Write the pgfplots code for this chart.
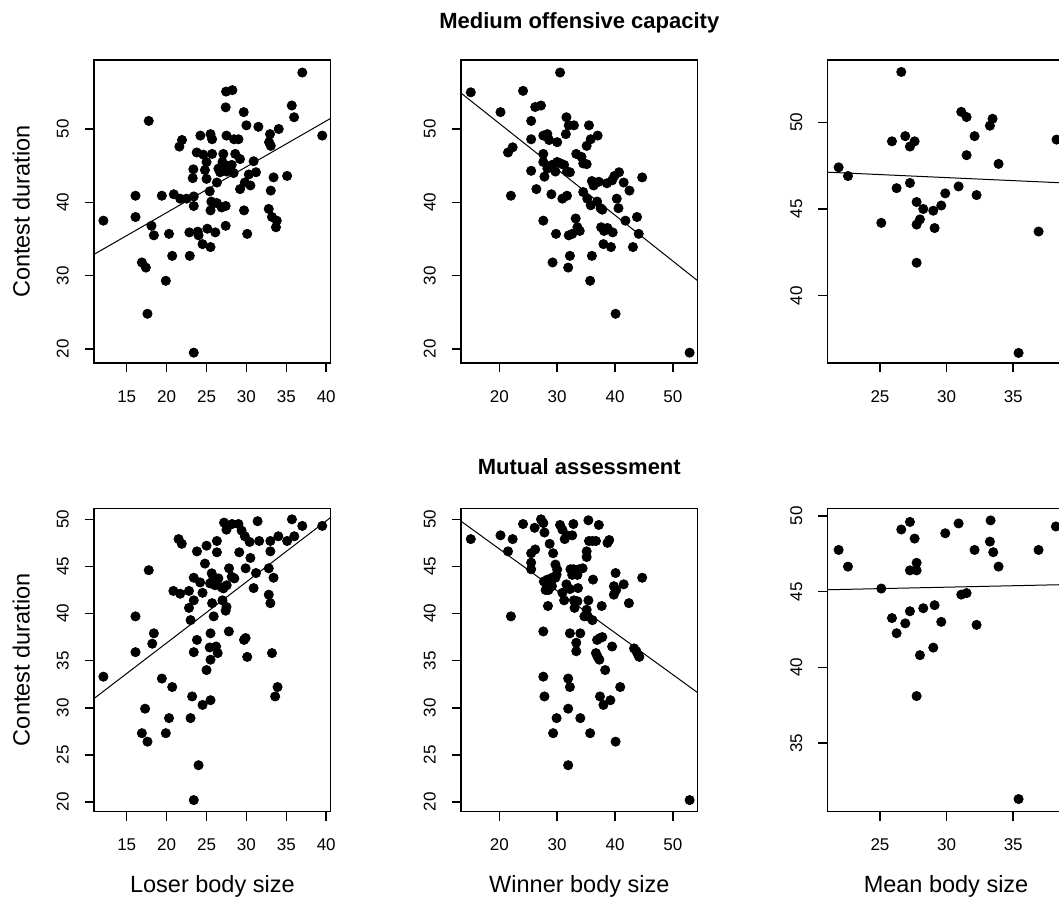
\documentclass[border=0pt]{standalone}
\usepackage{fontspec}
\setmainfont{Liberation Sans}
\usepackage{pgfplots}
\pgfplotsset{compat=1.18}

% 1 px of the reference = 0.5pt
\pgfplotsset{
  rpanel/.style={
    scale only axis, width=118.35pt, height=151.5pt,
    anchor=north west, clip=true,
    tick pos=left, tick align=outside, major tick length=4.75pt,
    axis line style={line width=0.75pt},
    every tick/.style={line width=0.75pt, black},
    scaled ticks=false,
    /pgf/number format/assume math mode=true,
    tick label style={font=\fontsize{8.5}{10}\selectfont},
    xticklabel style={yshift=-15pt, anchor=base},
    yticklabel style={xshift=-8pt, rotate=90, anchor=base},
    every axis x label/.style={at={(axis description cs:0.5,-0.2693)}, anchor=base,
      font=\fontsize{11.75}{14}\selectfont},
    every axis y label/.style={at={(axis description cs:-0.2717,0.5)}, rotate=90, anchor=base,
      font=\fontsize{11.75}{14}\selectfont},
  },
  dots/.style={only marks, mark=*, mark size=2.3pt, black},
  fit/.style={no marks, black, line width=0.5pt},
}

\begin{document}
\begin{tikzpicture}
\useasboundingbox (0,0) rectangle (529.5pt,449.5pt);
\fill[white] (0,0) rectangle (529.5pt,449.5pt);
\clip (0,0) rectangle (529.5pt,449.5pt);

% ---------- top row: medium offensive capacity ----------
\begin{axis}[rpanel, at={(47pt,419.5pt)},
  xmin=10.9, xmax=40.56, ymin=18.09, ymax=59.41,
  xtick={15,20,25,30,35,40}, ytick={20,30,40,50},
  ylabel={Contest duration}]
\addplot[dots] coordinates {
(37.0,57.7) (27.45,55.1) (28.24,55.3) (27.4,52.95) (17.76,51.1) (35.68,53.2)
(35.97,51.6) (29.66,52.3) (30.0,50.5) (31.5,50.3) (34.05,50.0) (32.96,49.3)
(32.84,48.2) (33.05,47.7) (39.5,49.1) (24.23,49.1) (25.5,49.3) (25.7,48.6)
(21.93,48.5) (21.6,47.6) (27.5,49.1) (28.45,48.6) (29.0,48.6) (23.77,46.8)
(24.6,46.5) (25.7,46.6) (25.0,45.5) (24.8,44.4) (27.1,46.6) (27.0,45.5)
(26.49,44.6) (26.9,44.9) (27.3,45.1) (27.74,44.6) (28.16,45.1) (27.53,44.2)
(26.7,44.1) (28.4,44.0) (28.6,46.6) (29.2,45.9) (23.35,44.5) (23.27,43.3)
(25.0,43.2) (26.3,42.7) (30.9,45.6) (31.2,44.1) (30.3,43.8) (29.8,42.7)
(30.5,42.3) (29.2,41.8) (33.4,43.4) (35.1,43.6) (33.05,41.6) (16.1,40.9)
(19.4,40.9) (20.9,41.1) (21.7,40.5) (22.5,40.5) (23.4,40.8) (25.4,41.5)
(23.4,39.5) (25.6,40.1) (25.9,39.9) (26.3,39.9) (26.9,39.3) (27.4,39.5)
(25.5,38.9) (29.7,38.9) (32.8,39.1) (33.2,38.0) (33.8,37.5) (33.7,36.6)
(12.08,37.5) (16.1,38.0) (18.1,36.8) (18.4,35.5) (20.3,35.7) (22.85,35.9)
(23.9,36.0) (24.0,35.5) (25.1,36.4) (26.1,35.9) (27.4,36.8) (30.1,35.7)
(24.5,34.3) (25.5,33.9) (20.7,32.7) (22.9,32.7) (16.9,31.8) (17.4,31.1)
(19.9,29.3) (17.6,24.8) (23.4,19.5)
};
\addplot[fit] coordinates {(10.9,32.9) (40.56,51.45)};
\end{axis}

\begin{axis}[rpanel, at={(230.5pt,419.5pt)},
  xmin=13.37, xmax=54.3, ymin=18.09, ymax=59.41,
  xtick={20,30,40,50}, ytick={20,30,40,50}]
\addplot[dots] coordinates {
(15.06,55.0) (30.5,57.7) (24.1,55.2) (20.2,52.3) (25.5,51.1) (26.2,53.0)
(27.2,53.2) (25.5,48.6) (21.5,46.8) (22.3,47.5) (22.0,40.9) (25.5,44.3)
(26.4,41.8) (27.6,49.1) (28.3,49.3) (28.6,48.5) (30.0,48.2) (31.6,51.6)
(31.5,49.3) (32.0,50.5) (32.9,50.5) (35.5,50.5) (35.8,48.6) (37.0,49.1)
(35.1,47.7) (27.6,46.6) (27.6,45.5) (28.3,44.6) (27.8,43.5) (29.1,45.1)
(29.7,44.2) (30.0,45.5) (30.6,45.3) (31.2,45.1) (31.7,44.2) (32.2,44.1)
(33.3,46.6) (34.2,46.2) (34.5,45.3) (35.1,45.2) (36.0,42.9) (36.3,42.3)
(37.2,42.8) (38.6,42.6) (39.5,43.0) (39.9,43.6) (40.7,44.1) (41.5,42.7)
(42.5,41.6) (44.7,43.4) (29.0,41.1) (30.9,40.5) (31.7,40.9) (34.5,41.4)
(35.2,40.5) (35.8,39.6) (36.9,40.1) (37.5,39.2) (37.8,39.0) (40.6,39.2)
(40.3,40.5) (41.8,37.5) (43.8,38.0) (44.1,35.7) (27.6,37.5) (29.8,35.7)
(32.0,35.5) (32.6,35.7) (33.2,37.8) (33.5,36.6) (33.9,36.1) (37.6,36.6)
(38.1,36.1) (38.7,36.5) (39.6,35.9) (38.0,34.3) (39.3,33.9) (43.1,33.9)
(29.2,31.8) (32.2,32.7) (31.9,31.1) (36.0,32.7) (35.7,29.3) (40.1,24.8)
(52.9,19.5)
};
\addplot[fit] coordinates {(13.37,54.9) (54.3,29.3)};
\end{axis}

\begin{axis}[rpanel, at={(413.85pt,419.5pt)},
  xmin=21.08, xmax=38.84, ymin=36.12, ymax=53.59,
  xtick={25,30,35}, ytick={40,45,50}]
\addplot[dots] coordinates {
(21.9,47.4) (22.6,46.9) (25.1,44.2) (25.9,48.9) (26.25,46.2) (26.6,52.9)
(26.9,49.2) (27.25,48.6) (27.6,48.9) (27.25,46.5) (27.75,45.4) (28.25,45.0)
(28.0,44.4) (27.75,44.1) (27.75,41.9) (29.0,44.9) (29.1,43.9) (29.6,45.2)
(29.9,45.9) (30.9,46.3) (31.1,50.6) (31.5,50.3) (31.5,48.1) (32.1,49.2)
(32.25,45.8) (33.25,49.8) (33.45,50.2) (33.9,47.6) (35.4,36.7) (36.9,43.7)
(38.25,49.0)
};
\addplot[fit] coordinates {(21.08,47.12) (38.84,46.5)};
\end{axis}

% ---------- bottom row: mutual assessment ----------
\begin{axis}[rpanel, at={(47pt,195.35pt)},
  xmin=10.9, xmax=40.56, ymin=19.01, ymax=51.17,
  xtick={15,20,25,30,35,40}, ytick={20,25,30,35,40,45,50},
  xlabel={Loser body size}, ylabel={Contest duration}]
\addplot[dots] coordinates {
(12.08,33.3) (16.1,39.7) (16.1,35.9) (17.76,44.6) (18.4,37.9) (18.2,36.8)
(17.3,29.9) (16.9,27.3) (17.6,26.4) (19.4,33.1) (20.7,32.2) (20.3,28.9)
(19.9,27.3) (21.5,47.9) (21.9,47.4) (20.85,42.4) (21.7,42.1) (22.8,42.4)
(23.8,46.6) (25.0,47.2) (26.3,47.7) (26.3,46.5) (27.2,49.65) (27.5,48.9)
(28.2,49.5) (29.0,49.5) (29.4,48.8) (29.8,48.2) (30.4,47.6) (31.4,49.8)
(31.6,47.7) (33.0,47.7) (33.0,46.6) (34.0,48.2) (35.1,47.7) (36.0,48.2)
(35.7,50.0) (37.0,49.3) (39.5,49.3) (29.1,46.5) (30.5,45.9) (24.8,45.3)
(29.9,44.8) (31.2,44.3) (32.8,44.8) (33.4,43.8) (23.4,43.8) (24.2,43.3)
(25.65,44.27) (25.86,43.73) (26.49,43.73) (25.44,43.2) (26.07,43.0) (26.9,42.78)
(27.53,43.0) (27.11,42.67) (27.82,44.8) (28.16,43.9) (28.49,43.73) (24.5,42.2)
(30.9,42.7) (32.8,42.0) (33.0,41.1) (23.4,41.4) (22.8,40.6) (25.7,41.1)
(27.0,41.4) (27.5,40.7) (27.4,40.3) (25.9,39.7) (23.0,39.3) (27.8,38.1)
(25.5,37.9) (23.8,37.2) (29.7,37.2) (29.9,37.4) (23.4,35.9) (25.4,36.4)
(26.2,36.5) (26.4,35.8) (30.1,35.4) (33.2,35.8) (25.5,35.1) (25.0,34.0)
(23.2,31.2) (25.5,30.8) (24.5,30.3) (33.9,32.2) (33.6,31.2) (23.0,28.9)
(24.0,23.9) (23.4,20.2)
};
\addplot[fit] coordinates {(10.9,30.98) (40.56,50.2)};
\end{axis}

\begin{axis}[rpanel, at={(230.5pt,195.35pt)},
  xmin=13.37, xmax=54.3, ymin=19.01, ymax=51.17,
  xtick={20,30,40,50}, ytick={20,25,30,35,40,45,50},
  xlabel={Winner body size}]
\addplot[dots] coordinates {
(15.06,47.9) (20.2,48.3) (22.3,47.9) (21.5,46.6) (24.1,49.5) (26.1,49.1)
(27.2,50.0) (27.6,49.6) (27.8,48.6) (30.5,49.4) (30.9,48.9) (31.3,47.9)
(31.7,48.3) (32.6,48.3) (32.8,49.5) (35.4,49.9) (37.2,49.4) (35.5,47.7)
(36.1,47.7) (36.7,47.7) (38.7,47.5) (39.0,47.8) (35.1,46.6) (35.1,46.0)
(25.5,46.4) (26.2,46.8) (28.7,47.4) (29.3,46.4) (25.5,45.4) (25.5,44.7)
(29.7,45.2) (30.0,44.67) (29.9,44.14) (29.1,43.8) (28.3,43.6) (27.7,43.4)
(28.3,43.07) (28.0,42.5) (28.5,42.5) (29.1,42.9) (29.7,43.8) (32.3,44.7)
(32.8,44.7) (33.2,44.5) (33.8,44.7) (34.4,44.8) (33.5,44.1) (32.6,44.1)
(36.2,43.6) (40.1,44.3) (39.8,42.9) (40.2,42.5) (39.8,42.0) (41.5,43.1)
(42.4,41.1) (44.7,43.8) (31.6,43.1) (32.2,42.6) (33.6,42.7) (30.9,42.2)
(31.2,41.4) (32.9,41.4) (33.5,41.3) (33.0,40.6) (35.4,41.4) (35.1,40.4)
(34.7,39.7) (35.3,39.7) (36.1,39.3) (37.7,40.8) (28.4,40.8) (22.0,39.7)
(27.6,38.1) (32.2,37.9) (34.0,37.9) (33.3,36.9) (33.3,36.0) (36.9,37.2)
(37.4,37.4) (37.8,37.5) (39.5,36.5) (36.7,35.8) (37.0,35.4) (37.3,35.1)
(38.3,34.0) (43.3,36.3) (43.7,36.0) (44.0,35.6) (44.2,35.4) (27.6,33.3)
(31.9,33.1) (32.2,32.2) (40.9,32.2) (27.8,31.2) (37.4,31.2) (38.0,30.3)
(39.2,30.8) (31.9,29.9) (29.9,28.9) (34.0,28.9) (29.3,27.3) (35.7,27.3)
(40.1,26.4) (31.9,23.9) (52.9,20.2)
};
\addplot[fit] coordinates {(13.37,49.8) (54.3,31.6)};
\end{axis}

\begin{axis}[rpanel, at={(413.85pt,195.35pt)},
  xmin=21.08, xmax=38.84, ymin=30.49, ymax=50.5,
  xtick={25,30,35}, ytick={35,40,45,50},
  xlabel={Mean body size}]
\addplot[dots] coordinates {
(21.9,47.75) (22.6,46.65) (25.1,45.2) (25.9,43.25) (26.25,42.25) (26.6,49.1)
(26.9,42.9) (27.25,49.6) (27.6,48.5) (27.25,46.4) (27.75,46.4) (27.75,46.9)
(27.25,43.7) (28.25,43.9) (28.0,40.8) (27.75,38.1) (29.0,41.3) (29.1,44.1)
(29.6,43.0) (29.9,48.85) (30.9,49.5) (31.1,44.8) (31.5,44.9) (32.1,47.75)
(32.25,42.8) (33.25,48.3) (33.3,49.7) (33.5,47.6) (33.9,46.65) (35.4,31.3)
(36.9,47.75) (38.2,49.3)
};
\addplot[fit] coordinates {(21.08,45.12) (38.84,45.46)};
\end{axis}

% ---------- row titles ----------
\node[anchor=base, font=\bfseries\fontsize{11}{13}\selectfont] at (289.65pt,435.35pt) {Medium offensive capacity};
\node[anchor=base, font=\bfseries\fontsize{11}{13}\selectfont] at (289.65pt,212pt) {Mutual assessment};
\end{tikzpicture}
\end{document}
